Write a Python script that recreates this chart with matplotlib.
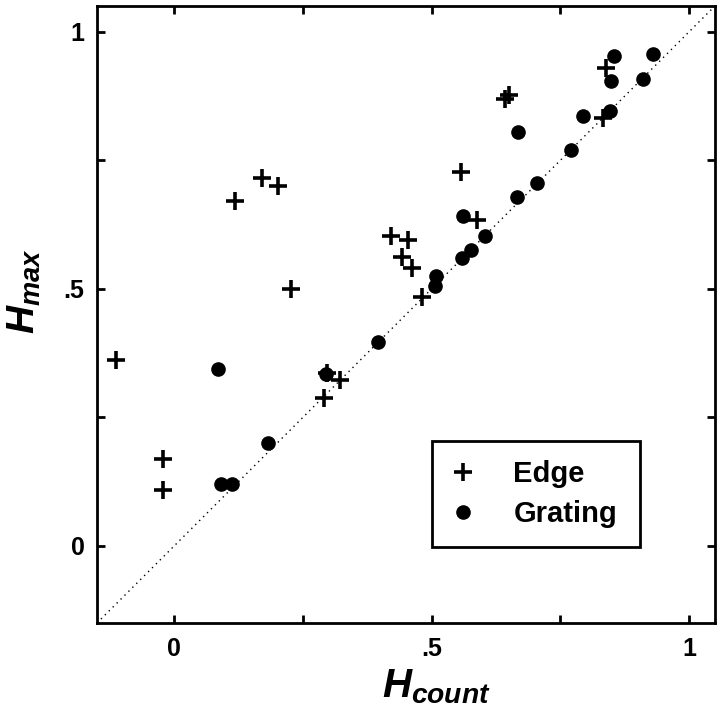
import matplotlib
matplotlib.use('Agg')
import matplotlib.pyplot as plt
from matplotlib.ticker import FixedLocator

plt.rcParams['font.family'] = ['Liberation Sans', 'DejaVu Sans']
plt.rcParams['font.weight'] = 'bold'
plt.rcParams['mathtext.fontset'] = 'custom'
plt.rcParams['mathtext.it'] = 'Liberation Sans:italic:bold'
plt.rcParams['mathtext.rm'] = 'Liberation Sans:bold'

# Edge stimuli (+)
edge_x = [-0.113, -0.021, -0.021, 0.119, 0.170, 0.201, 0.227, 0.422, 0.455, 0.443,
          0.461, 0.482, 0.643, 0.650, 0.558, 0.588, 0.838, 0.832, 0.291, 0.322, 0.297]
edge_y = [0.362, 0.169, 0.109, 0.671, 0.716, 0.700, 0.500, 0.603, 0.595, 0.562,
          0.541, 0.485, 0.870, 0.877, 0.727, 0.634, 0.930, 0.832, 0.288, 0.323, 0.337]

# Grating stimuli (filled circles)
grating_x = [0.086, 0.090, 0.113, 0.182, 0.295, 0.396, 0.506, 0.508, 0.559, 0.576, 0.603,
             0.561, 0.666, 0.705, 0.668, 0.771, 0.795, 0.846, 0.849, 0.854, 0.910, 0.930]
grating_y = [0.344, 0.121, 0.121, 0.200, 0.335, 0.397, 0.506, 0.525, 0.560, 0.576, 0.603,
             0.642, 0.679, 0.706, 0.805, 0.770, 0.837, 0.846, 0.905, 0.953, 0.908, 0.957]

tick_vals = [0, 0.5, 1]
tick_labels = ['0', '.5', '1']
minor_vals = [0.25, 0.75]
lims = (-0.15, 1.05)

fig = plt.figure(figsize=(7.2, 7.09), dpi=100)
ax = fig.add_axes([0.1347, 0.1213, 0.858, 0.870])

# identity line
ax.plot(lims, lims, color='black', linestyle=(0, (1, 3)), linewidth=1.0, zorder=1)
ax.plot(edge_x, edge_y, linestyle='none', marker='+', markersize=12.5,
        markeredgewidth=2.6, color='black', label='Edge', zorder=3)
ax.plot(grating_x, grating_y, linestyle='none', marker='o', markersize=9.5,
        color='black', label='Grating', zorder=2)

ax.set_xlim(lims)
ax.set_ylim(lims)

for axis in (ax.xaxis, ax.yaxis):
    axis.set_major_locator(FixedLocator(tick_vals))
    axis.set_minor_locator(FixedLocator(minor_vals))
ax.set_xticklabels(tick_labels)
ax.set_yticklabels(tick_labels)
ax.tick_params(which='both', direction='in', top=True, right=True,
               length=6, width=2, labelsize=18)
ax.tick_params(axis='x', pad=10)
ax.tick_params(axis='y', pad=9)

for s in ax.spines.values():
    s.set_linewidth(2)

ax.set_xlabel(r'$H_{count}$', fontsize=29)
ax.set_ylabel(r'$H_{max}$', fontsize=28)
ax.xaxis.set_label_coords(0.549, -0.072)
ax.yaxis.set_label_coords(-0.088, 0.538)

leg = ax.legend(loc='lower left', bbox_to_anchor=(0.542, 0.123, 0.337, 0.17),
                mode='expand', fontsize=21, fancybox=False, edgecolor='black',
                framealpha=1, borderpad=0.65, handlelength=0.85, handletextpad=1.3,
                labelspacing=0.42, borderaxespad=0)
leg.get_frame().set_linewidth(2)

fig.savefig('out.png', dpi=100)
